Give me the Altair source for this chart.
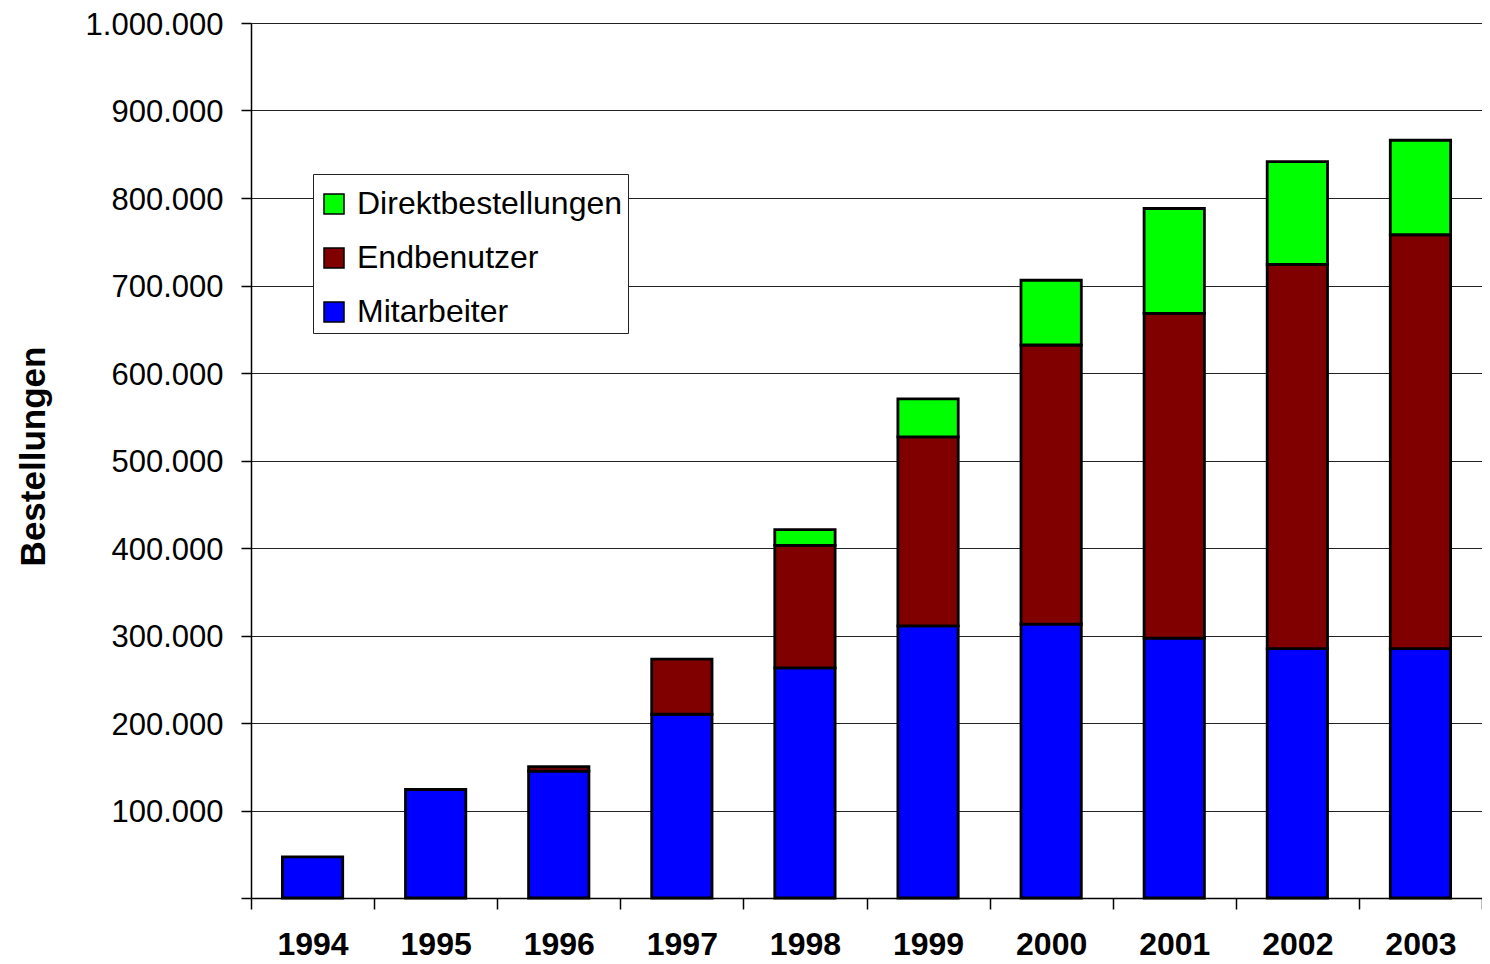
import altair as alt
import pandas as pd

years = ["1994", "1995", "1996", "1997", "1998", "1999", "2000", "2001", "2002", "2003"]
mitarbeiter = [47000, 124000, 145000, 210000, 263000, 311000, 313000, 297000, 285000, 285000]
endbenutzer = [0, 0, 5000, 63000, 140000, 216000, 319000, 371000, 439000, 473000]
direkt = [0, 0, 0, 0, 18000, 43500, 74000, 120000, 117500, 108000]

series = ["Direktbestellungen", "Endbenutzer", "Mitarbeiter"]
colors = ["#00FF00", "#800000", "#0000FF"]
stack_order = {"Mitarbeiter": 0, "Endbenutzer": 1, "Direktbestellungen": 2}

rows = []
for name, vals in [("Mitarbeiter", mitarbeiter), ("Endbenutzer", endbenutzer), ("Direktbestellungen", direkt)]:
    for y, v in zip(years, vals):
        if v > 0:
            rows.append({"Jahr": y, "Serie": name, "Wert": v, "ord": stack_order[name]})
df = pd.DataFrame(rows)

FONT = "Liberation Sans"

chart = alt.Chart(df).mark_bar(
    stroke="black", strokeWidth=2.8, width=alt.RelativeBandSize(0.49)
).encode(
    x=alt.X("Jahr:N", sort=years, title=None,
            scale=alt.Scale(paddingInner=0, paddingOuter=0),
            axis=alt.Axis(labelAngle=0, labelFont=FONT, labelFontSize=32, labelFontWeight="bold",
                          labelColor="black", labelPadding=20, tickSize=11, tickColor="black",
                          tickWidth=1.5, tickBand="extent", domainColor="black", domainWidth=1.5,
                          grid=False)),
    y=alt.Y("Wert:Q", stack="zero", title="Bestellungen",
            scale=alt.Scale(domain=[0, 1000000], nice=False),
            axis=alt.Axis(values=list(range(0, 1000001, 100000)),
                          labelExpr="datum.value == 0 ? '' : replace(format(datum.value, ',d'), regexp(',', 'g'), '.')",
                          labelFont=FONT, labelFontSize=31, labelColor="black", labelPadding=18,
                          labelOffset=2,
                          tickSize=10, tickColor="black", tickWidth=1.5,
                          domainColor="black", domainWidth=1.5,
                          gridColor="#222222", gridWidth=1, gridOpacity=1,
                          titleFont=FONT, titleFontSize=35, titleFontWeight="bold", titleColor="black",
                          titleX=-207, titleY=433, titleBaseline="alphabetic", titleAlign="center",
                          titleAngle=270)),
    color=alt.Color("Serie:N", scale=alt.Scale(domain=series, range=colors),
                    legend=alt.Legend(title=" ", titleFontSize=1, titlePadding=8,
                                      orient="none", legendX=62, legendY=151,
                                      symbolType="square", symbolSize=400,
                                      symbolStrokeColor="black", symbolStrokeWidth=1.5,
                                      symbolOpacity=1, labelFont=FONT, labelFontSize=32,
                                      labelColor="black", labelOffset=7, rowPadding=22,
                                      labelLimit=0,
                                      padding=5, strokeColor="#222222", fillColor="white")),
    order=alt.Order("ord:Q", sort="ascending"),
).properties(
    width=1231, height=875,
    autosize=alt.AutoSizeParams(type="none"),
    padding={"left": 243, "top": 15, "right": 0, "bottom": 62},
).configure_view(
    stroke="black", strokeWidth=1.5
).configure(background="white")

chart.save("out.html", embed_options={"renderer": "svg", "actions": False})
